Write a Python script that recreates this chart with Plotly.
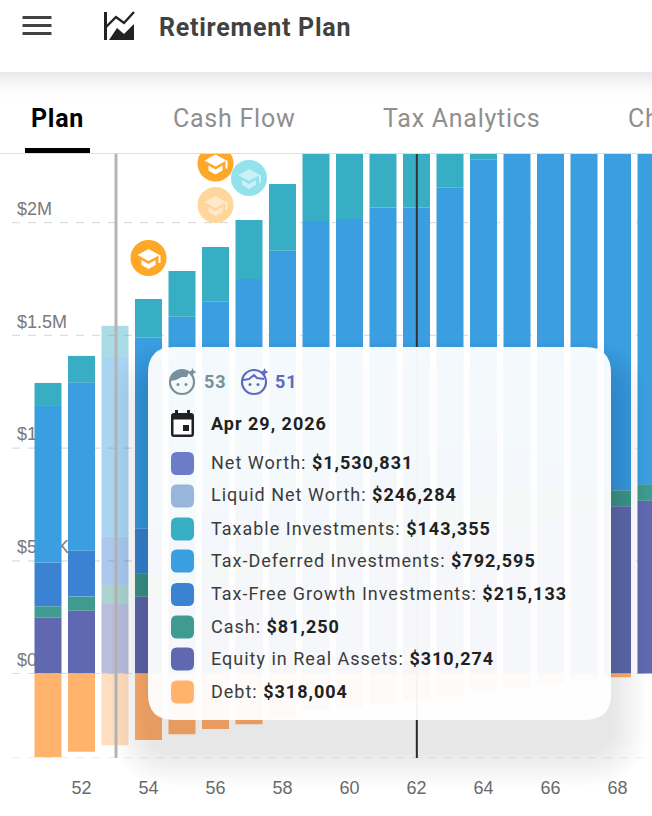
import plotly.graph_objects as go

# --- data ---
AGES = [51, 52, 53, 54, 55, 56, 57, 58, 59, 60, 61, 62, 63, 64, 65, 66, 67, 68, 69]
EQUITY = [248000, 279000, 310274, 341000, 370000, 400000, 430000, 460000, 490000, 520000,
          545000, 570000, 600000, 630000, 655000, 685000, 715000, 742000, 766000]
CASH = [50000, 62000, 81250, 104000, 115000, 120000, 125000, 130000, 135000, 140000,
        145000, 150000, 155000, 160000, 150000, 120000, 90000, 71000, 74000]
TAX_FREE = [194000, 203000, 215133, 197000, 205000, 215000, 225000, 235000, 245000, 250000,
            255000, 260000, 265000, 270000, 200000, 120000, 50000, 0, 0]
TAX_DEFERRED = [695000, 748000, 792595, 849000, 893000, 914000, 970000, 1051000, 1138000, 1106000,
                1122000, 1087000, 1135000, 1221000, 1500000, 1700000, 1900000, 2000000, 2100000]
TAXABLE = [102000, 117000, 143355, 170000, 203000, 243000, 262000, 296000, 340000, 400000,
           430000, 420000, 300000, 100000, 0, 0, 0, 0, 0]
DEBT = [-372000, -347000, -318004, -295000, -270000, -246000, -225000, -200000, -162000, -153000,
        -131000, -118000, -104000, -82000, -64000, -42000, -29000, -17000, 0]
BAR_OPACITY = [1, 1, 0.43, 1, 1, 1, 1, 1, 1, 1, 1, 1, 1, 1, 1, 1, 1, 1, 1]

X_TICKS = [52, 54, 56, 58, 60, 62, 64, 66, 68]
Y_TICKS = [0, 500000, 1000000, 1500000, 2000000]
Y_LABELS = ["$0", "$500K", "$1M", "$1.5M", "$2M"]
GRID_LEVELS = [-375000, 0, 500000, 1000000, 1500000, 2000000]
HOVER_AGE = 53.03
TODAY_AGE = 62.01

TOOLTIP_AGES = ["53", "51"]
TOOLTIP_DATE = "Apr 29, 2026"
TOOLTIP_LABELS = ["Net Worth", "Liquid Net Worth", "Taxable Investments", "Tax-Deferred Investments",
                  "Tax-Free Growth Investments", "Cash", "Equity in Real Assets", "Debt"]
TOOLTIP_VALUES = ["$1,530,831", "$246,284", "$143,355", "$792,595",
                  "$215,133", "$81,250", "$310,274", "$318,004"]
TABS = ["Plan", "Cash Flow", "Tax Analytics", "Ch"]

# --- colours ---
C_EQUITY = "#5f68b0"
C_CASH = "#3f9a8f"
C_FREE = "#3b82d3"
C_DEFERRED = "#3a9ee0"
C_TAXABLE = "#38aec4"
C_DEBT = "#ffb36c"
SWATCHES = ["#6b7cc8", "#98b6dc", C_TAXABLE, C_DEFERRED, C_FREE, C_CASH, C_EQUITY, C_DEBT]

W, H = 652, 816
PLOT_TOP, PLOT_BOTTOM = 153.5, 758
ROBOTO = "Roboto"


# page pixels -> paper coords
def px(x):
    return x / W


def py(y):
    return 1 - y / H


def path(points):
    return "M" + " L".join(f"{px(x):.5f},{py(y):.5f}" for x, y in points) + " Z"


def round_rect(x0, y0, x1, y1, r):
    pts = [("M", x0 + r, y0), ("L", x1 - r, y0), ("Q", x1, y0, x1, y0 + r), ("L", x1, y1 - r),
           ("Q", x1, y1, x1 - r, y1), ("L", x0 + r, y1), ("Q", x0, y1, x0, y1 - r),
           ("L", x0, y0 + r), ("Q", x0, y0, x0 + r, y0)]
    out = ""
    for p in pts:
        vals = p[1:]
        coords = " ".join(f"{px(vals[i]):.5f},{py(vals[i + 1]):.5f}" for i in range(0, len(vals), 2))
        out += f"{p[0]}{coords} "
    return out + "Z"


def paper_shape(**kw):
    return dict(xref="paper", yref="paper", **kw)


def filled(d, color, opacity=1):
    return paper_shape(type="path", path=d, fillcolor=color, line_width=0, opacity=opacity)


def disc(cx, cy, r, color, opacity=1):
    return paper_shape(type="circle", x0=px(cx - r), x1=px(cx + r), y0=py(cy - r), y1=py(cy + r),
                       fillcolor=color, line_width=0, opacity=opacity)


def polyline(points, color, width):
    return paper_shape(type="path", path="M" + " L".join(f"{px(a):.5f},{py(b):.5f}" for a, b in points),
                       line=dict(color=color, width=width))


def cap_badge(cx, cy, color, opacity=1):
    off = lambda pts: [(cx + a, cy + b) for a, b in pts]
    return [
        disc(cx, cy, 18, color, opacity),
        filled(path(off([(-11, -3), (0, -9), (11, -3), (0, 3)])), "white", opacity),
        filled(path(off([(-7, 2), (0, 6), (7, 2), (7, 7), (0, 11), (-7, 7)])), "white", opacity),
        filled(path(off([(10, -3), (12, -3), (12, 5), (10, 5)])), "white", opacity),
    ]


def face(cx, cy, color, solid_hair):
    off = lambda pts: [(cx + a, cy + b) for a, b in pts]
    ring = paper_shape(type="circle", x0=px(cx - 12), x1=px(cx + 12), y0=py(cy - 12), y1=py(cy + 12),
                       line=dict(color=color, width=2.2), fillcolor="rgba(0,0,0,0)")
    if solid_hair:
        hair = filled(path(off([(-12, -1), (-9, -9), (0, -12), (7, -10), (5, -5), (0, -5), (-6, -2)])), color)
    else:
        hair = polyline(off([(-11, -2), (-5, -3), (0, -7), (3, -4), (10, -3)]), color, 2)
    return [
        ring,
        hair,
        disc(cx - 4, cy + 2.5, 1.5, color),
        disc(cx + 4, cy + 2.5, 1.5, color),
        filled(path(off([(10.5, -14), (11.7, -11.2), (14.5, -10), (11.7, -8.8), (10.5, -6), (9.3, -8.8),
                         (6.5, -10), (9.3, -11.2)])), color),
    ]


def text(x, y, s, size, color, anchor="left", family=ROBOTO):
    return dict(xref="paper", yref="paper", x=px(x - 1), y=py(y), text=s, showarrow=False, xanchor=anchor,
                align="left", yanchor="middle", borderpad=0, font=dict(family=family, size=size, color=color))


# --- bars ---
fig = go.Figure()
for values, color, name in [(EQUITY, C_EQUITY, "Equity in Real Assets"), (CASH, C_CASH, "Cash"),
                            (TAX_FREE, C_FREE, "Tax-Free Growth Investments"),
                            (TAX_DEFERRED, C_DEFERRED, "Tax-Deferred Investments"),
                            (TAXABLE, C_TAXABLE, "Taxable Investments"), (DEBT, C_DEBT, "Debt")]:
    fig.add_trace(go.Bar(x=AGES, y=values, name=name, marker=dict(color=color, opacity=BAR_OPACITY, line_width=0)))

# --- shapes, in paint order ---
shapes = []
for level in GRID_LEVELS:
    shapes.append(dict(type="line", layer="below", xref="paper", yref="y", x0=px(12), x1=1, y0=level, y1=level,
                       line=dict(color="#dddddd", width=1.2, dash="8px 8px")))

for age, color, width in [(HOVER_AGE, "#b5b5b5", 3), (TODAY_AGE, "#333333", 2)]:
    shapes.append(dict(type="line", xref="x", yref="paper", x0=age, x1=age, y0=py(PLOT_BOTTOM), y1=py(PLOT_TOP),
                       line=dict(color=color, width=width)))

shapes += cap_badge(148.5, 258, "#ffa726")
shapes += cap_badge(215.5, 163.5, "#ffa726")
shapes += cap_badge(215.5, 205, "#ffa726", 0.45)
shapes += cap_badge(249, 135, "#ffa726", 0.45)
shapes += cap_badge(249, 178, "#26c6da", 0.5)

# tooltip shadow then card
for grow in range(36, 0, -3):
    shapes.append(filled(round_rect(148 - grow, 347 + 30 - grow, 611 + grow, 720 + 30 + grow, 26 + grow),
                         "#000000", 0.009))
shapes.append(filled(round_rect(148, 347, 611, 720, 26), "rgba(255,255,255,0.95)"))

rows = [463.5, 496, 529, 561, 594.5, 627, 659, 692]
for y, color in zip(rows, SWATCHES):
    shapes.append(filled(round_rect(171, y - 11.5, 194, y + 11.5, 6), color))

shapes += face(182, 382, "#78909c", True)
shapes += face(254, 382, "#5c6bc0", False)

# calendar icon
shapes.append(filled(round_rect(171, 413, 194, 437, 3), "#212121"))
shapes.append(filled(path([(173.5, 419.5), (191.5, 419.5), (191.5, 434.5), (173.5, 434.5)]), "white"))
shapes.append(filled(path([(175, 410), (178, 410), (178, 414), (175, 414)]), "#212121"))
shapes.append(filled(path([(187, 410), (190, 410), (190, 414), (187, 414)]), "#212121"))
shapes.append(filled(path([(183, 425), (189, 425), (189, 431), (183, 431)]), "#212121"))

# header and tab strip sit over the clipped marks
shapes.append(filled(path([(0, 0), (W, 0), (W, PLOT_TOP), (0, PLOT_TOP)]), "white"))
for i in range(10):
    shapes.append(filled(path([(0, 72 + i * 3), (W, 72 + i * 3), (W, 75 + i * 3), (0, 75 + i * 3)]),
                         "#5a5f78", 0.13 * (1 - i / 10) ** 2))
shapes.append(filled(path([(0, 153), (W, 153), (W, 154), (0, 154)]), "#dddddd"))
shapes.append(filled(path([(25, 148), (90, 148), (90, 153), (25, 153)]), "#000000"))

for y in [17.5, 25.5, 33.5]:
    shapes.append(filled(path([(22.5, y - 1.5), (51.5, y - 1.5), (51.5, y + 1.5), (22.5, y + 1.5)]), "#424242"))

# logo
shapes.append(filled(path([(104, 12), (107, 12), (107, 40), (104, 40)]), "#222222"))
shapes.append(filled(path([(109, 40), (117, 28), (124, 34), (134, 24), (134, 40)]), "#222222"))
shapes.append(polyline([(105, 28), (116, 17), (124, 23), (134, 12)], "#222222", 2.4))

# --- real text ---
notes = [text(159, 28, "<b>Retirement Plan</b>", 25, "#424242")]
notes.append(text(31, 118, f"<b>{TABS[0]}</b>", 25, "#000000"))
for x, tab in zip([173, 383, 628], TABS[1:]):
    notes.append(text(x, 118, tab, 25, "#8f8f8f"))

notes.append(text(204, 381, f"<b>{TOOLTIP_AGES[0]}</b>", 18, "#78909c"))
notes.append(text(275, 381, f"<b>{TOOLTIP_AGES[1]}</b>", 18, "#5c6bc0"))
notes.append(text(211, 423, f"<b>{TOOLTIP_DATE}</b>", 18, "#212121"))
for y, label, value in zip(rows, TOOLTIP_LABELS, TOOLTIP_VALUES):
    notes.append(text(211, y - 1, f"{label}: <span style='color:#212121'><b>{value}</b></span>", 18, "#3c3c3c"))

fig.update_layout(
    width=W, height=H,
    barmode="relative", bargap=0.194,
    showlegend=False,
    paper_bgcolor="white", plot_bgcolor="rgba(0,0,0,0)",
    margin=dict(l=0, r=0, t=0, b=0, autoexpand=False),
    hovermode=False,
    xaxis=dict(domain=[0, 1], range=[52 - 81.5 / 33.5, 52 + (W - 81.5) / 33.5],
               tickmode="array", tickvals=X_TICKS, showgrid=False, zeroline=False, ticks="",
               ticklabelstandoff=17, layer="below traces",
               tickfont=dict(family="Liberation Sans", size=18, color="#6a6a6a")),
    yaxis=dict(domain=[py(PLOT_BOTTOM), py(PLOT_TOP)], range=[-375000, (673.5 - PLOT_TOP) / 112.7 * 500000],
               tickmode="array", tickvals=Y_TICKS, ticktext=Y_LABELS, showgrid=False, zeroline=False, ticks="",
               ticklabelposition="inside", ticklabelstandoff=14, ticklabelshift=-14, layer="below traces",
               tickfont=dict(family="Liberation Sans", size=18, color="#7a7a7a")),
    shapes=shapes,
    annotations=notes,
)

# Roboto in the reference is tracked out; plotly has no font setting for that
spacing = """
document.body.style.margin='0';document.body.style.overflow='hidden';
document.querySelectorAll('.annotation-text').forEach(function(t){
  t.style.letterSpacing = parseFloat(t.style.fontSize) > 20 ? '0.75px' : '1px';
});
"""
fig.write_html("out.html", config={"displayModeBar": False}, post_script=spacing)
